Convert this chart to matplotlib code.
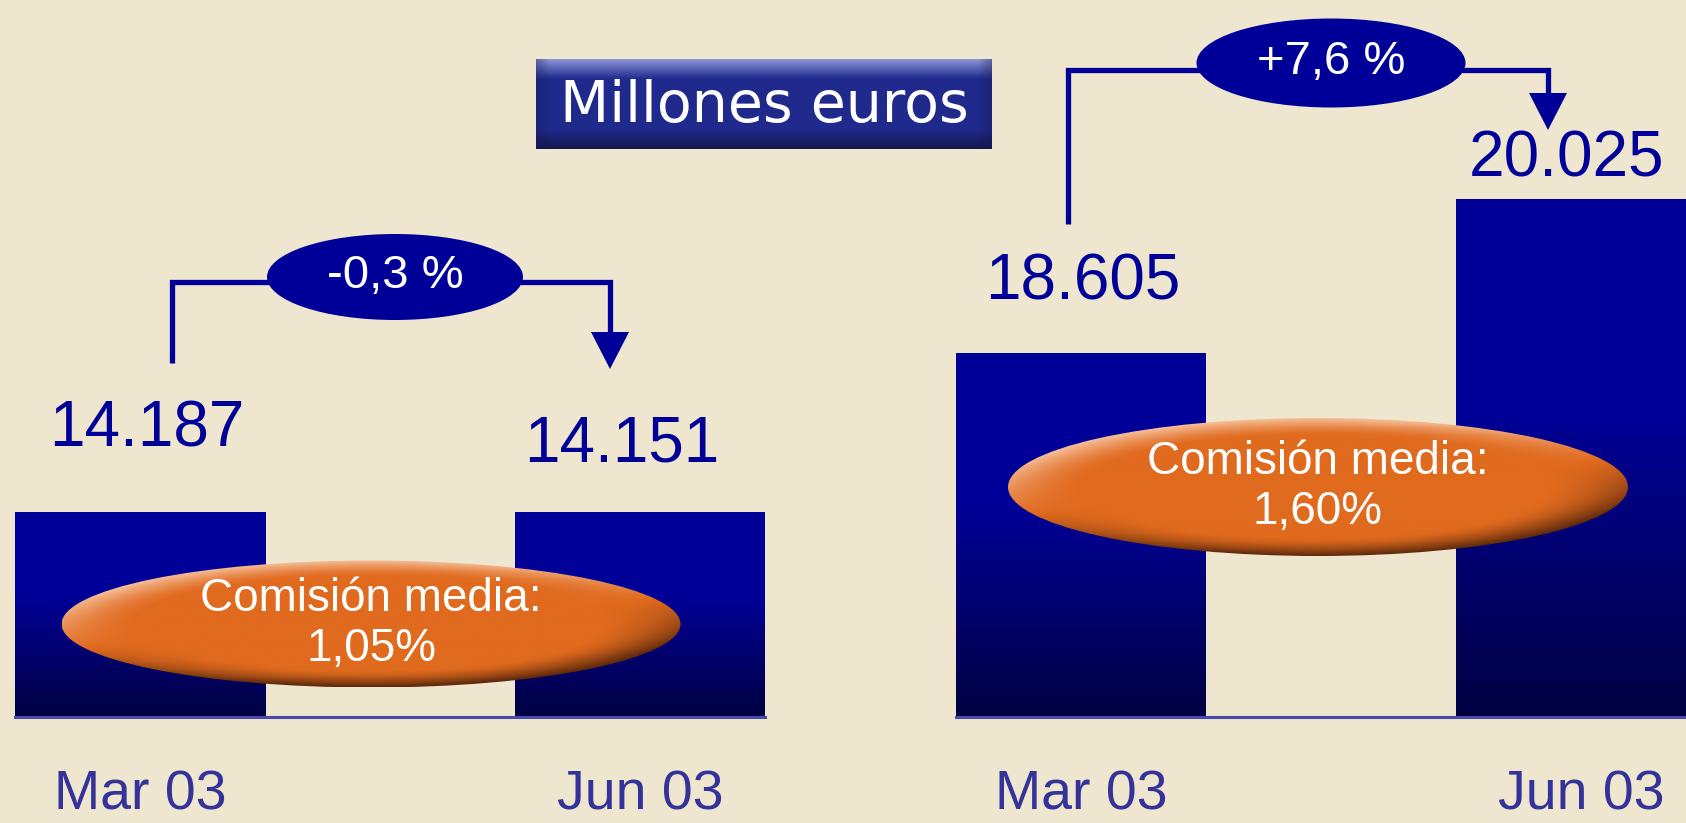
import numpy as np
import matplotlib.pyplot as plt
from matplotlib.patches import Ellipse, Polygon
from matplotlib.colors import to_rgb

# data
periods = ['Mar 03', 'Jun 03']
left_values = [14.187, 14.151]
right_values = [18.605, 20.025]
left_labels = ['14.187', '14.151']
right_labels = ['18.605', '20.025']
left_change = '-0,3 %'
right_change = '+7,6 %'
left_comision = 'Comisión media:\n1,05%'
right_comision = 'Comisión media:\n1,60%'

W, H = 1686, 823
BG = '#EEE6CF'
NAVY = '#000099'
SANS = ['Liberation Sans', 'DejaVu Sans']

fig = plt.figure(figsize=(W / 100, H / 100), dpi=100, facecolor=BG)


def px_axes(x0, x1, y_top, y_bot):
    return fig.add_axes([x0 / W, 1 - y_bot / H, (x1 - x0) / W, (y_bot - y_top) / H])


def gradient_bars(ax, bars):
    top = np.array(to_rgb(NAVY))
    bot = np.array(to_rgb('#000042'))
    t = np.linspace(0, 1, 256)[:, None, None]
    k = np.clip((t - 0.4) / 0.6, 0, 1)
    img = top * (1 - k) + bot * k
    ylo = ax.get_ylim()[0]
    for b in bars:
        x0, y0 = b.get_xy()
        im = ax.imshow(img, extent=(x0, x0 + b.get_width(), max(y0, ylo), y0 + b.get_height()),
                       aspect='auto', origin='upper', zorder=2)
        im.set_clip_path(b)


def panel(x0, x1, ylim, values, labels, offsets):
    ax = px_axes(x0, x1, 0, 717)
    ax.set_facecolor('none')
    x = np.arange(len(values)) * 2
    bars = ax.bar(x, values, width=1.0, color=NAVY, edgecolor='none', zorder=2)
    ax.set_xlim(-0.5, 2.5)
    ax.set_ylim(*ylim)
    gradient_bars(ax, bars)
    ax.set_xlim(-0.5, 2.5)
    ax.set_ylim(*ylim)
    ax.axhline(ylim[0], color='#4A4AA8', lw=2.2, zorder=3, clip_on=False)
    for xi, v, lab, off in zip(x, values, labels, offsets):
        ax.annotate(lab, (xi, v), xytext=off, textcoords='offset pixels',
                    ha='center', va='center', fontsize=46, color=NAVY, family=SANS)
    ax.set_xticks(x, periods)
    ax.tick_params(length=0, pad=38, labelsize=40, labelcolor='#333399')
    for t in ax.get_xticklabels():
        t.set_family(SANS)
    ax.set_yticks([])
    for s in ax.spines.values():
        s.set_visible(False)
    return ax


panel(15, 765, (0, 49.6), left_values, left_labels, [(7, 82), (-18, 68)])
panel(956, 1706, (15.25, 21.86), right_values, right_labels, [(2, 71), (-15, 40)])

# decoration layer in pixel coordinates
deco = fig.add_axes([0, 0, 1, 1])
deco.set_facecolor('none')
deco.axis('off')

# title box with bevel shading
tx0, tx1, ty0, ty1 = 536, 992, 59, 149
t = np.linspace(0, 1, 200)[:, None, None]
mid = np.array(to_rgb('#1F2A8C'))
light = np.array(to_rgb('#8E95D6'))
dark = np.array(to_rgb('#14184E'))
ktop = np.clip(1 - t / 0.22, 0, 1)
kbot = np.clip((t - 0.78) / 0.22, 0, 1)
img = mid + ktop * (light - mid) + kbot * (dark - mid)
u = np.linspace(0, 1, 400)[None, :, None]
kside = np.clip(1 - np.minimum(u, 1 - u) / 0.03, 0, 1) * 0.35
img = np.clip(img * (1 - kside) + kside * dark, 0, 1)
deco.imshow(img, extent=(tx0, tx1, ty1, ty0), aspect='auto', origin='upper', zorder=1)
deco.text((tx0 + tx1) / 2, (ty0 + ty1) / 2 + 2, 'Millones euros', ha='center', va='center',
          fontsize=41, color='white', family='DejaVu Sans', zorder=2)

# change brackets and ovals
LW = 3.8
for (vx, vy0), (ax_, ay), (ex, ey, ew, eh), txt in [
        ((172, 363), (610, 282), (395, 277, 256, 86), left_change),
        ((1068, 224), (1548, 70), (1331, 63, 269, 89), right_change)]:
    head_top = ay + 50 if vx < 500 else ay + 23
    tip = head_top + 37
    deco.plot([vx, vx, ax_, ax_], [vy0, ay, ay, head_top + 2], color=NAVY, lw=LW,
              solid_joinstyle='miter', solid_capstyle='butt', zorder=2)
    deco.add_patch(Polygon([(ax_ - 19, head_top), (ax_ + 19, head_top), (ax_, tip)],
                           closed=True, facecolor=NAVY, edgecolor='none', zorder=2))
    deco.add_patch(Ellipse((ex, ey), ew, eh, facecolor=NAVY, edgecolor='none', zorder=3))
    deco.text(ex, ey - 1, txt, ha='center', va='center', fontsize=34, color='white',
              family=SANS, zorder=4)

# orange "comision" ovals with soft shading
orange = np.array(to_rgb('#E06A1E'))
peach = np.array(to_rgb('#F6BE98'))
brown = np.array(to_rgb('#5E2A0C'))
for cx, cy, w, h, txt in [(371, 624, 619, 127, left_comision),
                          (1318, 487, 620, 138, right_comision)]:
    e = Ellipse((cx, cy), w, h, facecolor='none', edgecolor='none')
    deco.add_patch(e)
    uu = np.linspace(-1, 1, 400)[None, :]
    vv = np.linspace(1, -1, 200)[:, None]
    r = np.sqrt(uu ** 2 + vv ** 2)
    edge = np.clip((r - 0.75) / 0.25, 0, 1) ** 1.4
    s = np.clip(1.2 * vv - 0.5 * uu, -1, 1)
    img = orange + edge[..., None] * (np.clip(s, 0, None)[..., None] * (peach - orange)
                                       + np.clip(-s, 0, None)[..., None] * (brown - orange))
    im = deco.imshow(np.clip(img, 0, 1), extent=(cx - w / 2, cx + w / 2, cy + h / 2, cy - h / 2),
                     aspect='auto', origin='upper', zorder=5)
    im.set_clip_path(e)
    deco.text(cx, cy, txt, ha='center', va='center', fontsize=33, color='white',
              family=SANS, linespacing=1.15, zorder=6)

deco.set_xlim(0, W)
deco.set_ylim(H, 0)

fig.savefig('out.png', dpi=100, facecolor=BG)
